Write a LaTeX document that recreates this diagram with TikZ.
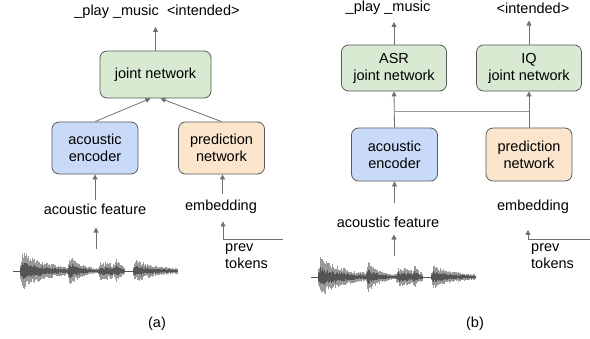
\documentclass[tikz,border=0pt]{standalone}
\usepackage{fontspec}
\setmainfont{Liberation Sans}
\usetikzlibrary{arrows.meta, positioning}
\definecolor{jointgreen}{HTML}{D9EAD3}
\definecolor{encblue}{HTML}{C9DAF8}
\definecolor{predorange}{HTML}{FCE5CD}
\definecolor{boxline}{HTML}{595959}
\definecolor{arrowgray}{HTML}{707070}
\definecolor{wavelight}{HTML}{9A9A9A}
\definecolor{wavedark}{HTML}{555555}

\begin{document}
\begin{tikzpicture}[x=1pt, y=-1pt,
        font=\fontsize{14.5}{17}\selectfont,
        box/.style={rectangle, rounded corners=7pt, draw=boxline, line width=0.8pt,
                    align=center, inner sep=0pt},
        jointbox/.style={box, fill=jointgreen, minimum width=105pt, minimum height=46pt},
        encbox/.style={box, fill=encblue, minimum width=86pt, minimum height=52pt},
        predbox/.style={box, fill=predorange, minimum width=86pt, minimum height=52pt},
        txt/.style={inner sep=0pt, align=left},
        arrow/.style={-{Triangle[length=5pt, width=5pt]}, line width=0.8pt, color=arrowgray},
        link/.style={line width=0.8pt, color=arrowgray!70},
        wavebar/.style={line width=0.6pt},
        wave/.pic={
          \draw[wavedark, line width=0.5pt] (0,0) -- (164,0);
          % bursts: start/length/height/decay
          \foreach \s/\w/\h/\k in {7/48/21/24, 55/30/18/11, 85/15/9/40, 101/10/16/6, 120/44/12/20} {
            \foreach \q in {0,0.5,...,\w} {
              \pgfmathsetmacro\wx{\s+\q}
              \pgfmathsetmacro\amp{1.5+\h*exp(-\q/\k)*min(1,\q/3+0.2)}
              \pgfmathsetmacro\wtop{-\amp*(0.5+0.5*rnd)}
              \pgfmathsetmacro\wbot{\amp*(0.5+0.5*rnd)}
              \pgfmathsetmacro\ctop{0.5*\wtop}
              \pgfmathsetmacro\cbot{0.5*\wbot}
              \draw[wavebar, wavelight] (\wx,\wtop) -- (\wx,\wbot);
              \draw[wavebar, wavedark] (\wx,\ctop) -- (\wx,\cbot);
            }
          }
        }
      ]
        \useasboundingbox (0,0) rectangle (590,338);
        \pgfmathsetseed{11}

        % (a) single joint network
        \node[jointbox, minimum width=111pt, minimum height=47pt] (jointa) at (155.5,74.5) {joint network};
        \node[encbox] (enca) at (95,148) {acoustic\\encoder};
        \node[predbox] (preda) at (221.5,148) {prediction\\network};
        \node[txt] (outa) at (157,12) {\_play \_music\ \ <intended>};
        \node[txt] (feata) at (95,209) {acoustic feature};
        \node[txt] (embeda) at (221,207) {embedding};
        \node[txt, anchor=north west] (preva) at (225,243) {prev\\tokens};
        \node[txt] (capa) at (157,324) {(a)};
        \pic at (13,271) {wave};
        \coordinate (wavea) at (96,249);
        \coordinate (tokena) at (283,239);

        \draw[arrow] (jointa.north) -- (jointa.north |- outa.south) [shorten >=8pt];
        \draw[arrow] (enca.north) -- ([xshift=-5pt]jointa.south);
        \draw[arrow] (preda.north) -- ([xshift=5pt]jointa.south);
        \draw[arrow, shorten <=3pt] (feata.north -| enca) -- (enca.south);
        \draw[arrow, shorten >=13pt] (wavea) -- (wavea |- feata.south);
        \draw[arrow, shorten <=6pt] ([xshift=1.5pt]embeda.north) -- ([xshift=1.5pt]embeda.north |- preda.south);
        \draw[arrow, shorten >=7.5pt] (tokena) -| ([xshift=2pt]embeda.south);

        % (b) separate ASR and IQ joint networks
        \node[jointbox] (asrb) at (394,68) {ASR\\joint network};
        \node[jointbox] (iqb) at (529,68) {IQ\\joint network};
        \node[encbox, minimum height=53pt] (encb) at (394.5,154.5) {acoustic\\encoder};
        \node[predbox, minimum height=53pt] (predb) at (529,154.5) {prediction\\network};
        \node[txt] (outb) at (388,8) {\_play \_music};
        \node[txt] (intb) at (533,8) {<intended>};
        \node[txt] (featb) at (388,222) {acoustic feature};
        \node[txt] (embedb) at (533,207) {embedding};
        \node[txt, anchor=north west] (prevb) at (531,243) {prev\\tokens};
        \node[txt] (capb) at (475,324) {(b)};
        \pic at (311,277) {wave};
        \coordinate (waveb) at (394,256);
        \coordinate (tokenb) at (590,239);
        \coordinate (busb) at (0,111);

        \draw[arrow, shorten >=7pt] (asrb.north) -- (asrb.north |- outb.south);
        \draw[arrow, shorten >=7pt] (iqb.north) -- (iqb.north |- intb.south);
        \draw[arrow] (encb.north) -- (asrb.south);
        \draw[arrow] (predb.north) -- (iqb.south);
        \draw[link] (encb.north |- busb) -- (predb.north |- busb);
        \draw[arrow, shorten <=13pt] (featb.north -| encb) -- (encb.south);
        \draw[arrow, shorten >=7pt] (waveb) -- (waveb |- featb.south);
        \draw[arrow, shorten >=16pt] (tokenb) -| ([xshift=-5pt]embedb.south);
      \end{tikzpicture}
\end{document}
